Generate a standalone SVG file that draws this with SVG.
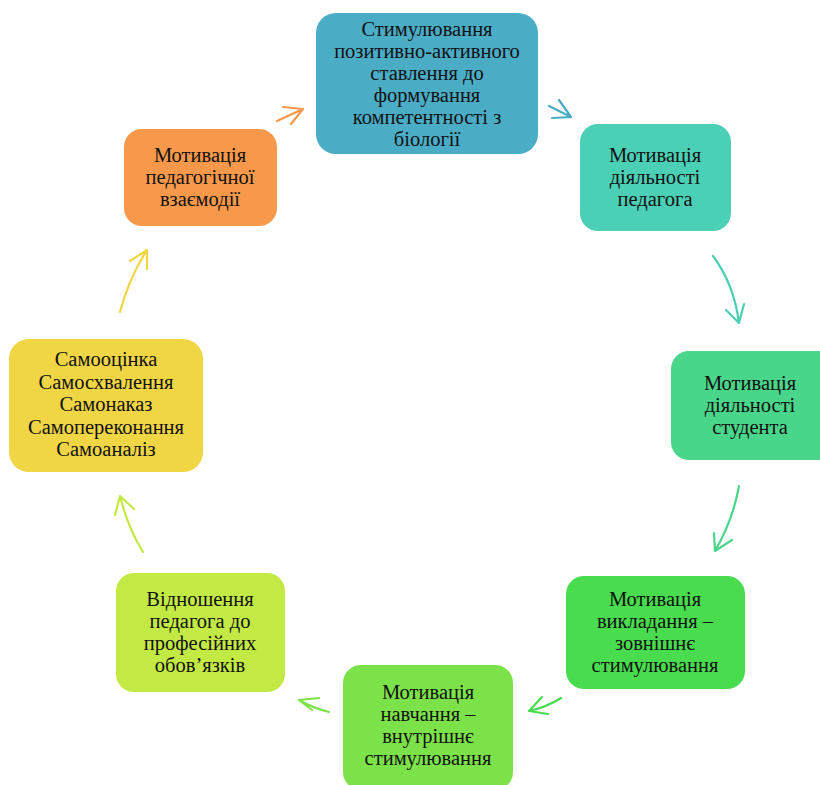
<svg xmlns="http://www.w3.org/2000/svg" width="820" height="785" viewBox="0 0 820 785">
<style>
text{font-family:"Liberation Serif",serif;font-size:20.5px;fill:#111;text-anchor:middle}
.c path{fill:none;stroke-width:2.2;stroke-linecap:round;stroke-linejoin:round}
</style>
<rect width="820" height="785" fill="#fff"/>
<g id="n1"><rect x="316" y="13" width="222" height="141" rx="20" fill="#4BACC6"/>
<text x="427" y="36">Стимулювання</text><text x="427" y="58">позитивно-активного</text><text x="427" y="80">ставлення до</text><text x="427" y="102">формування</text><text x="427" y="124">компетентності з</text><text x="427" y="146">біології</text></g>
<g id="n2"><rect x="580" y="124" width="151" height="107" rx="18" fill="#4BCFB5"/>
<text x="655" y="162">Мотивація</text><text x="655" y="184">діяльності</text><text x="655" y="206">педагога</text></g>
<g id="n3"><rect x="671" y="351" width="165" height="109" rx="18" fill="#4AD68A"/>
<text x="750" y="390">Мотивація</text><text x="750" y="412">діяльності</text><text x="750" y="434">студента</text></g>
<g id="n4"><rect x="566" y="576" width="179" height="113" rx="18" fill="#48DC4E"/>
<text x="655" y="606">Мотивація</text><text x="655" y="628">викладання –</text><text x="655" y="650">зовнішнє</text><text x="655" y="672">стимулювання</text></g>
<g id="n5"><rect x="343" y="665" width="170" height="125" rx="18" fill="#7CE24A"/>
<text x="428" y="699">Мотивація</text><text x="428" y="721">навчання –</text><text x="428" y="743">внутрішнє</text><text x="428" y="765">стимулювання</text></g>
<g id="n6"><rect x="116" y="573" width="169" height="119" rx="18" fill="#C3E944"/>
<text x="200" y="606">Відношення</text><text x="200" y="628">педагога до</text><text x="200" y="650">професійних</text><text x="200" y="672">обов’язків</text></g>
<g id="n7"><rect x="9" y="339" width="194" height="133" rx="20" fill="#F0D545"/>
<text x="106" y="366">Самооцінка</text><text x="106" y="389">Самосхвалення</text><text x="106" y="411">Самонаказ</text><text x="106" y="434">Самопереконання</text><text x="106" y="456">Самоаналіз</text></g>
<g id="n8"><rect x="124" y="129" width="153" height="97" rx="18" fill="#F8984A"/>
<text x="200" y="162">Мотивація</text><text x="200" y="184">педагогічної</text><text x="200" y="206">взаємодії</text></g>
<g id="connectors" class="c">
<path stroke="#F8984A" d="M277,121 L303,109 M283,107 L303,109 L291,124"/>
<path stroke="#4BACC6" d="M549,106 L571,117 M559,100 L571,117 L552,118"/>
<path stroke="#4BCFB5" d="M713,256 Q734,284 739,323 M726,310 L739,323 L744,304"/>
<path stroke="#4AD68A" d="M739,486 Q733,520 715,551 M714,533 L715,551 L732,540"/>
<path stroke="#48DC4E" d="M561,698 Q547,707 529,711 M542,697 L529,711 L548,714"/>
<path stroke="#7CE24A" d="M329,712 Q313,708 299,700 M319,698 L299,700 L312,710"/>
<path stroke="#C3E944" d="M143,552 Q128,528 120,496 M115,515 L120,496 L134,509"/>
<path stroke="#F0D545" d="M120,312 Q129,278 147,250 M130,261 L147,250 L147,269"/>
</g>
</svg>
